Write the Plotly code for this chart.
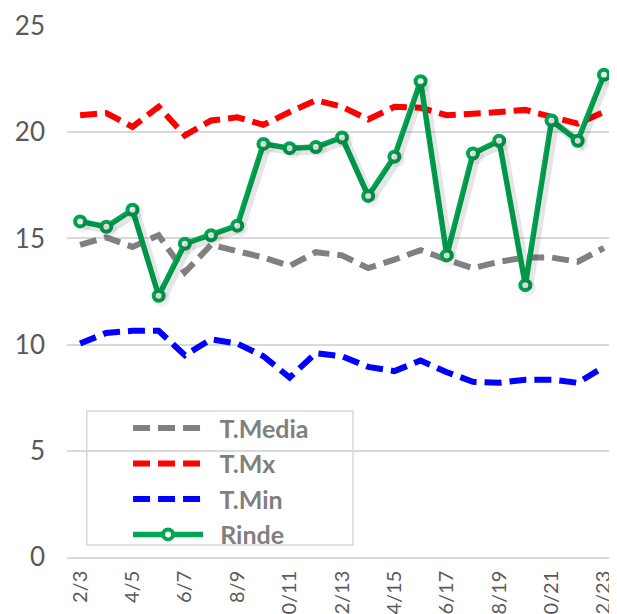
import plotly.graph_objects as go

campaigns = ["2/3", "3/4", "4/5", "5/6", "6/7", "7/8", "8/9", "9/10", "10/11", "11/12",
             "12/13", "13/14", "14/15", "15/16", "16/17", "17/18", "18/19", "19/20",
             "20/21", "21/22", "22/23"]

t_media = [14.7, 15.05, 14.6, 15.15, 13.4, 14.7, 14.4, 14.1, 13.7, 14.35, 14.2,
           13.6, 14.0, 14.45, 14.0, 13.6, 13.9, 14.1, 14.1, 13.9, 14.55]
t_mx = [20.8, 20.9, 20.25, 21.2, 19.85, 20.55, 20.7, 20.35, 20.95, 21.5, 21.2,
        20.6, 21.2, 21.15, 20.8, 20.85, 20.95, 21.05, 20.7, 20.4, 20.95]
t_min = [10.05, 10.55, 10.65, 10.65, 9.5, 10.25, 10.05, 9.45, 8.45, 9.6, 9.45,
         8.95, 8.75, 9.25, 8.7, 8.25, 8.2, 8.35, 8.35, 8.2, 8.95]
rinde = [15.8, 15.55, 16.35, 12.3, 14.75, 15.15, 15.6, 19.45, 19.25, 19.3, 19.75,
         17.0, 18.85, 22.4, 14.2, 19.0, 19.6, 12.8, 20.55, 19.6, 22.7]

series_names = ["T.Media", "T.Mx", "T.Min", "Rinde"]
tick_labels = campaigns[::2]

NB = "\u00a0\u00a0"
fig = go.Figure()
dash = "17px,8px"
fig.add_trace(go.Scatter(x=campaigns, y=t_media, name=NB + series_names[0], mode="lines",
                         line=dict(color="#808080", width=6, dash=dash)))
fig.add_trace(go.Scatter(x=campaigns, y=t_mx, name=NB + series_names[1], mode="lines",
                         line=dict(color="#ff0000", width=6, dash=dash)))
fig.add_trace(go.Scatter(x=campaigns, y=t_min, name=NB + series_names[2], mode="lines",
                         line=dict(color="#0000ff", width=6, dash=dash)))
# soft shadow of the Rinde series (same data on a slightly offset hidden axis pair)
fig.add_trace(go.Scatter(x=campaigns, y=rinde, mode="lines+markers", showlegend=False,
                         hoverinfo="skip", xaxis="x2", yaxis="y2",
                         line=dict(color="rgba(0,0,0,0.10)", width=9),
                         marker=dict(size=16, color="rgba(0,0,0,0.06)")))
fig.add_trace(go.Scatter(x=campaigns, y=rinde, name=NB + series_names[3], mode="lines+markers",
                         line=dict(color="#00a651", width=5.5),
                         marker=dict(symbol="circle", size=10, color="white",
                                     line=dict(color="#00a651", width=4))))

# legend frame (drawn above gridlines, below data)
fig.add_shape(type="rect", xref="paper", yref="paper",
              x0=0.036, x1=0.52, y0=0.0226, y1=0.275, layer="between",
              fillcolor="white", line=dict(color="#d9d9d9", width=1.5))

fig.update_layout(
    width=609, height=606,
    margin=dict(l=59, r=0, t=18, b=57, autoexpand=False),
    paper_bgcolor="white", plot_bgcolor="white",
    font=dict(family="Lato, sans-serif", color="#595959"),
    showlegend=True,
    legend=dict(
        x=0.111, y=0.286, xanchor="left", yanchor="top",
        bgcolor="rgba(0,0,0,0)", borderwidth=0,
        font=dict(family="Lato, sans-serif", size=25, color="#7f7f7f", weight="bold"),
        itemwidth=70, tracegroupgap=0,
    ),
    xaxis2=dict(type="category", overlaying="x", range=[-0.5 - 0.12, 20.5 - 0.12],
                visible=False, showgrid=False),
    yaxis2=dict(overlaying="y", range=[0.14, 25.14], visible=False, showgrid=False),
)
fig.update_xaxes(
    selector=dict(anchor="y"),
    type="category", range=[-0.5, 20.5],
    tickmode="array", tickvals=tick_labels, ticktext=tick_labels,
    tickangle=-90, tickfont=dict(size=20, color="#595959"),
    showgrid=False, showline=True, linecolor="#d9d9d9", linewidth=1.5,
    ticks="", ticklabelstandoff=4, automargin=False,
)
fig.update_layout(yaxis=dict(
    range=[0, 25], tickvals=[0, 5, 10, 15, 20, 25],
    tickfont=dict(size=26, color="#595959"),
    showgrid=True, gridcolor="#d9d9d9", gridwidth=1.5,
    zeroline=False, showline=False, ticks="", ticklabelstandoff=21,
    automargin=False,
))
fig.update_layout(xaxis=dict(
    type="category", range=[-0.5, 20.5],
    tickmode="array", tickvals=tick_labels, ticktext=tick_labels,
    tickangle=-90, tickfont=dict(size=20, color="#595959"),
    showgrid=False, showline=True, linecolor="#d9d9d9", linewidth=1.5,
    ticks="", ticklabelstandoff=4, automargin=False,
))

fig.write_html("out.html")
